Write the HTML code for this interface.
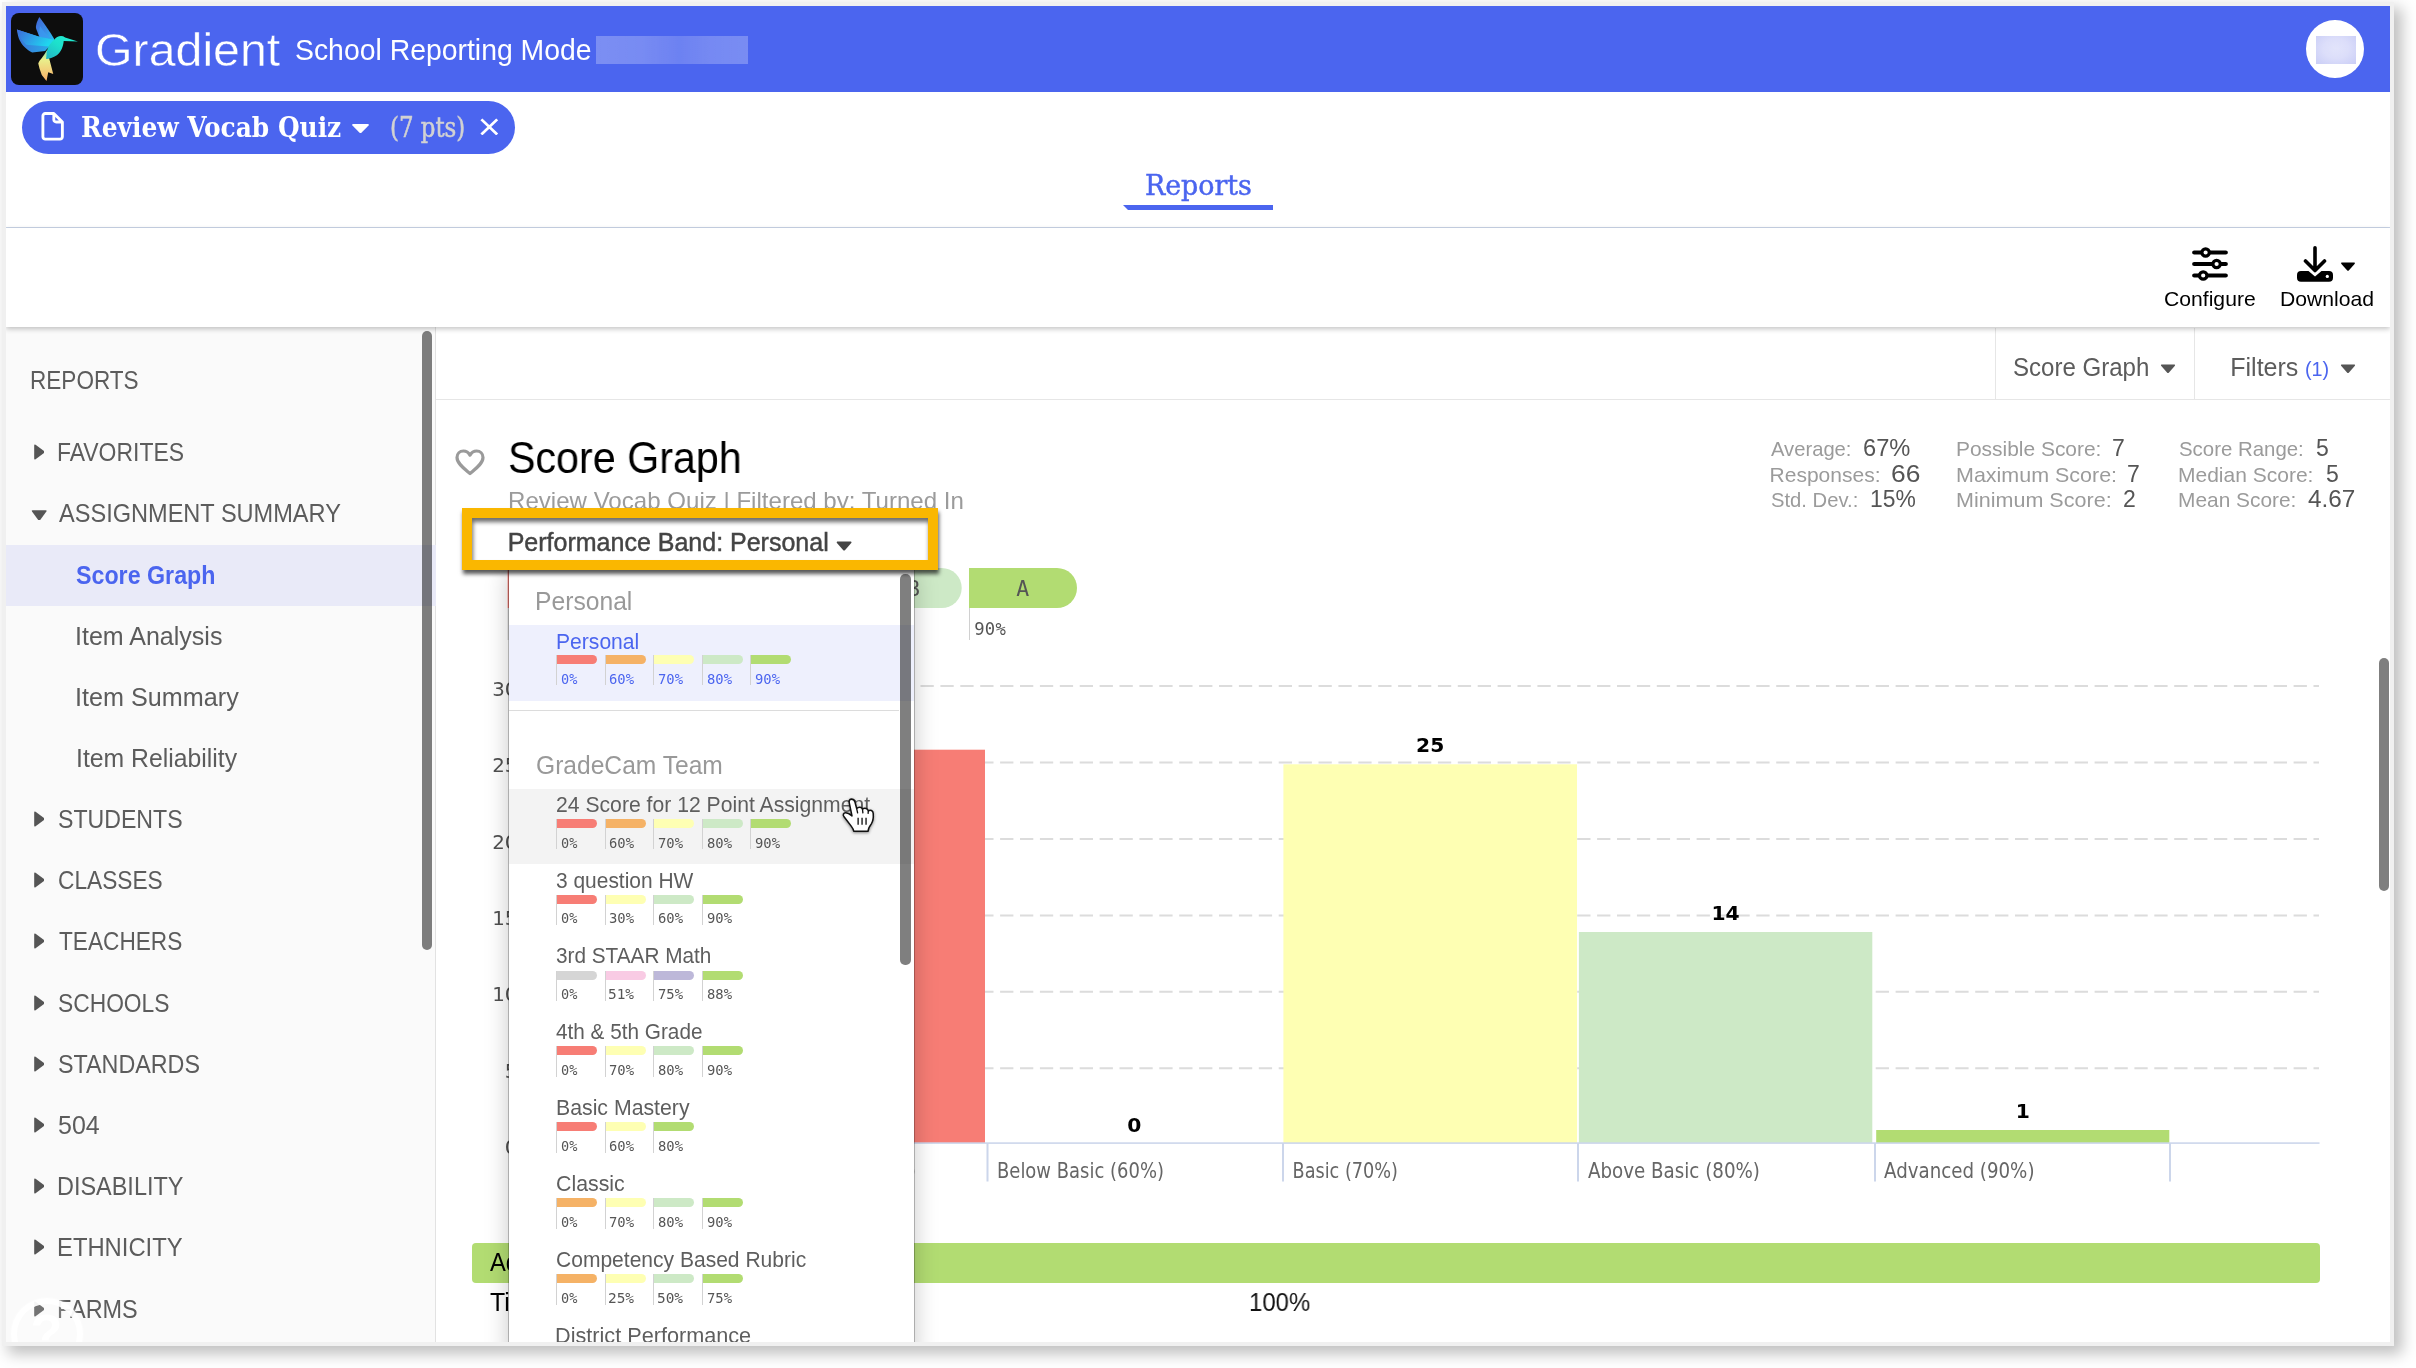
<!DOCTYPE html>
<html lang="en">
<head>
<meta charset="utf-8">
<title>Gradient - Score Graph</title>
<style>

html,body{margin:0;padding:0;background:#fff;width:2416px;height:1368px;overflow:hidden}
body{position:relative;font-family:"Liberation Sans",Arial,sans-serif}
#shadow,#frame,#page{position:absolute}
#page{will-change:transform}
#page header,#page nav,#page aside,#page main,#page section{position:static;display:block}
#page div,#page span,#page svg,#page h1,#page h2,#page p,#page a,#page b,#page ul,#page li{position:absolute;margin:0;padding:0;display:block;box-sizing:border-box}
#page .t{white-space:nowrap;transform-origin:0 50%}
#page .bl{display:inline-block;position:static;width:0;height:0;vertical-align:baseline}

</style>
</head>
<body>
<div id="shadow" style="left:2px;top:2px;width:2392px;height:1344px;background:#f0f0f0;box-shadow:7px 7px 14px 1px rgba(0,0,0,.25)"></div>
<div id="frame" style="left:6px;top:6px;width:2384px;height:1336px;overflow:hidden;background:#fff">
<div id="page" style="left:-6px;top:-6px;width:2416px;height:1368px">
<header id="hdr">
<div class="bar" style="left:6px;top:6px;width:2384px;height:85.5px;background:#4b65ef"></div>
<svg viewBox="85 85 1170 1165" width="72" height="71.6" style="left:11.2px;top:13.2px;border-radius:8px;background:#0d0d0d">
<defs>
<linearGradient id="gw1" x1="0" y1="0" x2="1" y2="1"><stop offset="0" stop-color="#3f63d6"/><stop offset=".55" stop-color="#3a8ee6"/><stop offset="1" stop-color="#25c3f0"/></linearGradient>
<linearGradient id="gw2" x1="0" y1="0" x2="1" y2=".35"><stop offset="0" stop-color="#3d6ad8"/><stop offset=".5" stop-color="#2f9fe8"/><stop offset="1" stop-color="#1fd6ee"/></linearGradient>
<linearGradient id="gw3" x1="0" y1="0" x2="1" y2="0"><stop offset="0" stop-color="#3a74da"/><stop offset="1" stop-color="#27b4ea"/></linearGradient>
<linearGradient id="gb" x1="1" y1="0" x2="0" y2="1"><stop offset="0" stop-color="#22f0d2"/><stop offset=".5" stop-color="#1de0cc"/><stop offset="1" stop-color="#22b4c4"/></linearGradient>
<linearGradient id="gt" x1="0" y1="0" x2="0" y2="1"><stop offset="0" stop-color="#7fe0b0"/><stop offset=".3" stop-color="#e9f08c"/><stop offset="1" stop-color="#fbb068"/></linearGradient>
</defs>
<path d="M545,150 C505,225 478,300 495,345 L545,472 L760,545 L792,517 C725,400 640,275 545,150Z" fill="url(#gw1)"/>
<path d="M560,300 C610,390 700,470 775,528 L700,570 L548,474 C535,420 540,350 560,300Z" fill="#3b9af0" opacity=".75"/>
<path d="M180,355 L545,472 L792,520 L700,640 L640,702 L430,727 C340,690 265,610 225,530 C205,490 190,430 180,355Z" fill="url(#gw3)"/>
<path d="M180,355 L545,472 L792,520 L700,630 L330,600 C250,530 200,440 180,355Z" fill="url(#gw2)"/>
<path d="M665,690 C620,790 545,850 528,905 L548,990 L585,1095 L662,1192 L690,1050 L772,1078 L708,835 Z" fill="url(#gt)"/>
<path d="M792,518 C825,465 905,440 965,482 L1172,547 L942,540 C935,625 900,720 830,772 C775,812 700,832 655,832 L668,700 C690,620 740,560 792,518Z" fill="url(#gb)"/>
</svg>
<span class="t" style="left:94.5px;top:26.7px;font:400 46.8px/1 'Liberation Sans', Arial, sans-serif;color:#fff;transform:scaleX(1.0322);-webkit-text-stroke:0.45px #4b65ef;">Gradient</span>
<span class="t" style="left:294.7px;top:35.3px;font:400 30px/1 'Liberation Sans', Arial, sans-serif;color:#fff;transform:scaleX(0.9460);">School Reporting Mode</span>
<div style="left:596px;top:35.8px;width:152px;height:28px;background:linear-gradient(90deg,rgba(255,255,255,.27),rgba(255,255,255,.25) 30%,rgba(255,255,255,.19) 55%,rgba(255,255,255,.24) 75%,rgba(255,255,255,.26));filter:blur(.5px)"></div>
<div style="left:2305.8px;top:19.9px;width:57.8px;height:57.8px;background:#fff;border-radius:50%"></div>
<div style="left:2316.2px;top:35.9px;width:39.8px;height:27.8px;background:radial-gradient(ellipse at 50% 45%,#e2e4fb 0%,#dcdefa 45%,#c9cdf6 100%)"></div>
</header>
<section id="chipbar">
<div style="left:22px;top:101px;width:493px;height:53px;background:#4b65ef;border-radius:27px"></div>
<svg viewBox="0 0 24 30" width="22.8" height="28.6" style="left:41.1px;top:112px"><path d="M4.5,1.5 H13.5 L22.5,10.5 V26 a2.5,2.5 0 0 1 -2.5,2.5 H4.5 a2.5,2.5 0 0 1 -2.5,-2.5 V4 a2.5,2.5 0 0 1 2.5,-2.5 Z M13.5,1.5 V8 a2.5,2.5 0 0 0 2.5,2.5 H22.5" fill="none" stroke="#fff" stroke-width="3" stroke-linejoin="round"/></svg>
<span class="t" style="left:81.3px;top:113.4px;font:700 28.5px/1 'DejaVu Serif Condensed', 'DejaVu Serif', 'Liberation Serif', serif;color:#fff;transform:scaleX(0.9698);">Review Vocab Quiz</span>
<svg viewBox="0 0 20 12" width="19" height="11" style="left:350.5px;top:122.5px"><path d="M1.5,1 H18.5 Q19.6,1.6 18.8,2.6 L11,10.6 Q10,11.4 9,10.6 L1.2,2.6 Q0.4,1.6 1.5,1Z" fill="#fff"/></svg>
<span class="t" style="left:389.8px;top:114.4px;font:400 27px/1 'DejaVu Serif Condensed', 'DejaVu Serif', 'Liberation Serif', serif;color:#d2d2d2;transform:scaleX(0.9419);-webkit-text-stroke:0.5px #d2d2d2;">(7 pts)</span>
<svg viewBox="0 0 20 20" width="18.6" height="17.8" style="left:480.3px;top:117.6px" preserveAspectRatio="none"><path d="M1.5,1.5 L18.5,18.5 M18.5,1.5 L1.5,18.5" stroke="#fff" stroke-width="3" fill="none"/></svg>
</section>
<nav id="tabs">
<span class="t" style="left:1144.6px;top:171.6px;font:400 28px/1 'DejaVu Serif Condensed', 'DejaVu Serif', 'Liberation Serif', serif;color:#4b65ef;transform:scaleX(1.0660);-webkit-text-stroke:0.45px #4b65ef;">Reports</span>
<svg width="150" height="5" viewBox="0 0 150 5" style="left:1123.3px;top:205px"><path d="M0,0 H150 V5 H5Z" fill="#4b65ef"/></svg>
<div style="left:6px;top:227px;width:2384px;height:1px;background:#c9d4e6"></div>
</nav>
<section id="toolbar">
<div style="left:6px;top:228px;width:2384px;height:98.8px;background:#fff;box-shadow:0 2px 5px rgba(0,0,0,.23);z-index:5"></div>
<svg viewBox="0 0 36 34" width="36" height="34" style="left:2192px;top:246.6px;z-index:6">
<g stroke="#000" stroke-width="4.2" stroke-linecap="round" fill="none"><path d="M2.2,5.5 H33.8 M2.2,17 H33.8 M2.2,28.5 H33.8"/></g>
<g fill="#fff" stroke="#000" stroke-width="3.2"><circle cx="13.6" cy="5.5" r="3.7"/><circle cx="24.6" cy="17" r="3.7"/><circle cx="11.2" cy="28.5" r="3.7"/></g></svg>
<svg viewBox="0 0 36 36" width="36" height="36" style="left:2296.8px;top:245.6px;z-index:6">
<path d="M18,1.8 V22.5 M8.5,15 L18,24.5 L27.5,15" stroke="#000" stroke-width="3.6" stroke-linecap="round" stroke-linejoin="round" fill="none"/>
<path d="M4,25 H11.5 L18,30.5 L24.5,25 H32 a4,4 0 0 1 4,4 V31.8 a4,4 0 0 1 -4,4 H4 a4,4 0 0 1 -4,-4 V29 a4,4 0 0 1 4,-4Z" fill="#000"/>
<circle cx="30.3" cy="30.4" r="1.6" fill="#fff"/></svg>
<svg viewBox="0 0 16 10" width="16" height="9.4" style="left:2340px;top:261.6px;z-index:6"><path d="M1.2,0.5 H14.8 Q15.8,1 15,2 L8.8,9 Q8,9.8 7.2,9 L1,2 Q0.2,1 1.2,0.5Z" fill="#000"/></svg>
<span class="t" style="left:2164.0px;top:287.5px;font:400 21px/1 'Liberation Sans', Arial, sans-serif;color:#000;transform:scaleX(1.0070);z-index:6;">Configure</span>
<span class="t" style="left:2279.5px;top:287.5px;font:400 21px/1 'Liberation Sans', Arial, sans-serif;color:#000;transform:scaleX(1.0075);z-index:6;">Download</span>
</section>
<aside id="side">
<div style="left:6px;top:327px;width:429.5px;height:1016px;background:#fafafa;border-right:1px solid #e2e2e2"></div>
<div style="left:6px;top:544.7px;width:429.5px;height:61px;background:#e9eaf8"></div>
<span class="t" style="left:30.0px;top:367.1px;font:400 26px/1 'Liberation Sans', Arial, sans-serif;color:#5c5c5c;transform:scaleX(0.8676);">REPORTS</span>
<svg viewBox="0 0 11 16" width="10.8" height="16" style="left:33.6px;top:443.7px"><path d="M0.2,1.4 Q0.2,-0.2 1.6,0.7 L10.2,7 Q11,8 10.2,9 L1.6,15.3 Q0.2,16.2 0.2,14.6Z" fill="#555"/></svg>
<span class="t" style="left:56.9px;top:438.8px;font:400 26px/1 'Liberation Sans', Arial, sans-serif;color:#5c5c5c;transform:scaleX(0.8818);">FAVORITES</span>
<svg viewBox="0 0 16 11" width="16.4" height="10.8" style="left:30.6px;top:509.6px"><path d="M1.4,0.2 Q-0.2,0.2 0.7,1.6 L7,10.2 Q8,11 9,10.2 L15.3,1.6 Q16.2,0.2 14.6,0.2Z" fill="#555"/></svg>
<span class="t" style="left:58.7px;top:500.0px;font:400 26px/1 'Liberation Sans', Arial, sans-serif;color:#5c5c5c;transform:scaleX(0.9061);">ASSIGNMENT SUMMARY</span>
<svg viewBox="0 0 11 16" width="10.8" height="16" style="left:33.6px;top:810.9px"><path d="M0.2,1.4 Q0.2,-0.2 1.6,0.7 L10.2,7 Q11,8 10.2,9 L1.6,15.3 Q0.2,16.2 0.2,14.6Z" fill="#555"/></svg>
<span class="t" style="left:57.8px;top:806.0px;font:400 26px/1 'Liberation Sans', Arial, sans-serif;color:#5c5c5c;transform:scaleX(0.8892);">STUDENTS</span>
<svg viewBox="0 0 11 16" width="10.8" height="16" style="left:33.6px;top:872.1px"><path d="M0.2,1.4 Q0.2,-0.2 1.6,0.7 L10.2,7 Q11,8 10.2,9 L1.6,15.3 Q0.2,16.2 0.2,14.6Z" fill="#555"/></svg>
<span class="t" style="left:57.8px;top:867.2px;font:400 26px/1 'Liberation Sans', Arial, sans-serif;color:#5c5c5c;transform:scaleX(0.8735);">CLASSES</span>
<svg viewBox="0 0 11 16" width="10.8" height="16" style="left:33.6px;top:933.3px"><path d="M0.2,1.4 Q0.2,-0.2 1.6,0.7 L10.2,7 Q11,8 10.2,9 L1.6,15.3 Q0.2,16.2 0.2,14.6Z" fill="#555"/></svg>
<span class="t" style="left:58.7px;top:928.4px;font:400 26px/1 'Liberation Sans', Arial, sans-serif;color:#5c5c5c;transform:scaleX(0.8709);">TEACHERS</span>
<svg viewBox="0 0 11 16" width="10.8" height="16" style="left:33.6px;top:994.5px"><path d="M0.2,1.4 Q0.2,-0.2 1.6,0.7 L10.2,7 Q11,8 10.2,9 L1.6,15.3 Q0.2,16.2 0.2,14.6Z" fill="#555"/></svg>
<span class="t" style="left:57.8px;top:989.6px;font:400 26px/1 'Liberation Sans', Arial, sans-serif;color:#5c5c5c;transform:scaleX(0.8768);">SCHOOLS</span>
<svg viewBox="0 0 11 16" width="10.8" height="16" style="left:33.6px;top:1055.7px"><path d="M0.2,1.4 Q0.2,-0.2 1.6,0.7 L10.2,7 Q11,8 10.2,9 L1.6,15.3 Q0.2,16.2 0.2,14.6Z" fill="#555"/></svg>
<span class="t" style="left:57.8px;top:1050.8px;font:400 26px/1 'Liberation Sans', Arial, sans-serif;color:#5c5c5c;transform:scaleX(0.8963);">STANDARDS</span>
<svg viewBox="0 0 11 16" width="10.8" height="16" style="left:33.6px;top:1116.9px"><path d="M0.2,1.4 Q0.2,-0.2 1.6,0.7 L10.2,7 Q11,8 10.2,9 L1.6,15.3 Q0.2,16.2 0.2,14.6Z" fill="#555"/></svg>
<span class="t" style="left:58.4px;top:1112.0px;font:400 26px/1 'Liberation Sans', Arial, sans-serif;color:#5c5c5c;transform:scaleX(0.9614);">504</span>
<svg viewBox="0 0 11 16" width="10.8" height="16" style="left:33.6px;top:1178.1px"><path d="M0.2,1.4 Q0.2,-0.2 1.6,0.7 L10.2,7 Q11,8 10.2,9 L1.6,15.3 Q0.2,16.2 0.2,14.6Z" fill="#555"/></svg>
<span class="t" style="left:56.9px;top:1173.2px;font:400 26px/1 'Liberation Sans', Arial, sans-serif;color:#5c5c5c;transform:scaleX(0.9019);">DISABILITY</span>
<svg viewBox="0 0 11 16" width="10.8" height="16" style="left:33.6px;top:1239.3px"><path d="M0.2,1.4 Q0.2,-0.2 1.6,0.7 L10.2,7 Q11,8 10.2,9 L1.6,15.3 Q0.2,16.2 0.2,14.6Z" fill="#555"/></svg>
<span class="t" style="left:56.9px;top:1234.4px;font:400 26px/1 'Liberation Sans', Arial, sans-serif;color:#5c5c5c;transform:scaleX(0.9156);">ETHNICITY</span>
<svg viewBox="0 0 11 16" width="10.8" height="16" style="left:33.6px;top:1300.5px"><path d="M0.2,1.4 Q0.2,-0.2 1.6,0.7 L10.2,7 Q11,8 10.2,9 L1.6,15.3 Q0.2,16.2 0.2,14.6Z" fill="#555"/></svg>
<span class="t" style="left:56.9px;top:1295.6px;font:400 26px/1 'Liberation Sans', Arial, sans-serif;color:#5c5c5c;transform:scaleX(0.9011);">FARMS</span>
<span class="t" style="left:76.3px;top:562.6px;font:700 25.5px/1 'Liberation Sans', Arial, sans-serif;color:#4b65ef;transform:scaleX(0.9111);">Score Graph</span>
<span class="t" style="left:75.4px;top:624.1px;font:400 25.5px/1 'Liberation Sans', Arial, sans-serif;color:#5c5c5c;transform:scaleX(0.9813);">Item Analysis</span>
<span class="t" style="left:75.4px;top:685.2px;font:400 25.5px/1 'Liberation Sans', Arial, sans-serif;color:#5c5c5c;transform:scaleX(0.9877);">Item Summary</span>
<span class="t" style="left:75.5px;top:746.2px;font:400 25.5px/1 'Liberation Sans', Arial, sans-serif;color:#5c5c5c;transform:scaleX(0.9717);">Item Reliability</span>
<div style="left:422px;top:330.5px;width:9.8px;height:619px;background:rgba(0,0,0,.5);border-radius:5px"></div>
<div style="left:11px;top:1298px;width:72px;height:72px;background:rgba(255,255,255,.18);border-radius:50%;border:6px solid rgba(255,255,255,.93);box-shadow:0 0 3px rgba(255,255,255,.8)"></div>
<span class="t" style="left:30.5px;top:1307.0px;font:700 52px/1 'Liberation Sans', Arial, sans-serif;color:rgba(255,255,255,.97);">?</span>
</aside>
<main id="main">
<div style="left:436px;top:399px;width:1954px;height:1px;background:#e6e6e6"></div>
<div style="left:1995px;top:328px;width:1px;height:71px;background:#e6e6e6"></div>
<div style="left:2194px;top:328px;width:1px;height:71px;background:#e6e6e6"></div>
<span class="t" style="left:2013.0px;top:354.6px;font:400 25px/1 'Liberation Sans', Arial, sans-serif;color:#5c5c5c;transform:scaleX(0.9619);">Score Graph</span>
<svg viewBox="0 0 16 10" width="16" height="9.6" style="left:2160.4px;top:363.7px;"><path d="M1.2,0.5 H14.8 Q15.8,1 15,2 L8.8,9 Q8,9.8 7.2,9 L1,2 Q0.2,1 1.2,0.5Z" fill="#555"/></svg>
<span class="t" style="left:2230.3px;top:354.6px;font:400 25px/1 'Liberation Sans', Arial, sans-serif;color:#5c5c5c;">Filters</span>
<span class="t" style="left:2305.1px;top:357.6px;font:400 21px/1 'Liberation Sans', Arial, sans-serif;color:#4b65ef;transform:scaleX(0.9420);">(1)</span>
<svg viewBox="0 0 16 10" width="16" height="9.6" style="left:2339.8px;top:363.7px;"><path d="M1.2,0.5 H14.8 Q15.8,1 15,2 L8.8,9 Q8,9.8 7.2,9 L1,2 Q0.2,1 1.2,0.5Z" fill="#555"/></svg>
<svg viewBox="0 0 30 27" width="30" height="27" style="left:455px;top:449px"><path d="M15,24.6 C9,19.5 2,14.5 2,8.6 C2,4.6 4.9,2 8.4,2 C11.2,2 13.6,3.6 15,6.2 C16.4,3.6 18.8,2 21.6,2 C25.1,2 28,4.6 28,8.6 C28,14.5 21,19.5 15,24.6Z" fill="none" stroke="#9a9a9a" stroke-width="3.2" stroke-linejoin="round"/></svg>
<h1 class="t" style="left:507.6px;top:436.3px;font:400 44px/1 'Liberation Sans', Arial, sans-serif;color:#000;transform:scaleX(0.9368);">Score Graph</h1>
<span class="t" style="left:507.8px;top:488.5px;font:400 24px/1 'Liberation Sans', Arial, sans-serif;color:#9b9b9b;transform:scaleX(1.0032);">Review Vocab Quiz | Filtered by: Turned In</span>
<span class="t" style="left:1770.6px;top:438.4px;font:400 21px/1 'Liberation Sans', Arial, sans-serif;color:#9b9b9b;transform:scaleX(0.9617);">Average:</span>
<span class="t" style="left:1862.5px;top:437.4px;font:400 23px/1 'Liberation Sans', Arial, sans-serif;color:#555;transform:scaleX(1.0295);">67%</span>
<span class="t" style="left:1769.6px;top:463.6px;font:400 21px/1 'Liberation Sans', Arial, sans-serif;color:#9b9b9b;">Responses:</span>
<span class="t" style="left:1891.1px;top:462.6px;font:400 23px/1 'Liberation Sans', Arial, sans-serif;color:#555;transform:scaleX(1.1475);">66</span>
<span class="t" style="left:1770.6px;top:488.9px;font:400 21px/1 'Liberation Sans', Arial, sans-serif;color:#9b9b9b;transform:scaleX(0.9627);">Std. Dev.:</span>
<span class="t" style="left:1869.6px;top:487.9px;font:400 23px/1 'Liberation Sans', Arial, sans-serif;color:#555;transform:scaleX(0.9937);">15%</span>
<span class="t" style="left:1955.7px;top:438.4px;font:400 21px/1 'Liberation Sans', Arial, sans-serif;color:#9b9b9b;transform:scaleX(0.9967);">Possible Score:</span>
<span class="t" style="left:2112.0px;top:437.4px;font:400 23px/1 'Liberation Sans', Arial, sans-serif;color:#555;">7</span>
<span class="t" style="left:1955.7px;top:463.6px;font:400 21px/1 'Liberation Sans', Arial, sans-serif;color:#9b9b9b;transform:scaleX(1.0226);">Maximum Score:</span>
<span class="t" style="left:2127.0px;top:462.6px;font:400 23px/1 'Liberation Sans', Arial, sans-serif;color:#555;">7</span>
<span class="t" style="left:1955.7px;top:488.9px;font:400 21px/1 'Liberation Sans', Arial, sans-serif;color:#9b9b9b;transform:scaleX(1.0258);">Minimum Score:</span>
<span class="t" style="left:2122.9px;top:487.9px;font:400 23px/1 'Liberation Sans', Arial, sans-serif;color:#555;">2</span>
<span class="t" style="left:2179.0px;top:438.4px;font:400 21px/1 'Liberation Sans', Arial, sans-serif;color:#9b9b9b;transform:scaleX(0.9718);">Score Range:</span>
<span class="t" style="left:2316.0px;top:437.4px;font:400 23px/1 'Liberation Sans', Arial, sans-serif;color:#555;">5</span>
<span class="t" style="left:2178.0px;top:463.6px;font:400 21px/1 'Liberation Sans', Arial, sans-serif;color:#9b9b9b;">Median Score:</span>
<span class="t" style="left:2326.0px;top:462.6px;font:400 23px/1 'Liberation Sans', Arial, sans-serif;color:#555;">5</span>
<span class="t" style="left:2178.0px;top:488.9px;font:400 21px/1 'Liberation Sans', Arial, sans-serif;color:#9b9b9b;transform:scaleX(0.9946);">Mean Score:</span>
<span class="t" style="left:2308.3px;top:487.9px;font:400 23px/1 'Liberation Sans', Arial, sans-serif;color:#555;transform:scaleX(1.0575);">4.67</span>
<svg id="chart" width="1960" height="780" viewBox="436 560 1960 780" style="left:436px;top:560px">
<path d="M507.6,568 H595.6 a20,20 0 0 1 0,40 H507.6Z" fill="#f77d75"/>
<rect x="507.6" y="608" width="1" height="32" fill="#d0d0d0"/>
<text x="561.4" y="596" text-anchor="middle" font-family="'DejaVu Sans Mono',monospace" font-size="21.5" fill="#555">F</text>
<text x="512.8000000000001" y="635" font-family="'DejaVu Sans Mono',monospace" font-size="17.2" letter-spacing="0.25" fill="#555">0%</text>
<path d="M623.2,568 H711.2 a20,20 0 0 1 0,40 H623.2Z" fill="#f5b266"/>
<rect x="623.2" y="608" width="1" height="32" fill="#d0d0d0"/>
<text x="677.0" y="596" text-anchor="middle" font-family="'DejaVu Sans Mono',monospace" font-size="21.5" fill="#555">D</text>
<text x="628.4000000000001" y="635" font-family="'DejaVu Sans Mono',monospace" font-size="17.2" letter-spacing="0.25" fill="#555">60%</text>
<path d="M738.5,568 H826.5 a20,20 0 0 1 0,40 H738.5Z" fill="#feffb3"/>
<rect x="738.5" y="608" width="1" height="32" fill="#d0d0d0"/>
<text x="792.3" y="596" text-anchor="middle" font-family="'DejaVu Sans Mono',monospace" font-size="21.5" fill="#555">C</text>
<text x="743.7" y="635" font-family="'DejaVu Sans Mono',monospace" font-size="17.2" letter-spacing="0.25" fill="#555">70%</text>
<path d="M853.7,568 H941.7 a20,20 0 0 1 0,40 H853.7Z" fill="#cde9c6"/>
<rect x="853.7" y="608" width="1" height="32" fill="#d0d0d0"/>
<text x="913.6" y="596" text-anchor="middle" font-family="'DejaVu Sans Mono',monospace" font-size="21.5" fill="#555">B</text>
<text x="858.9000000000001" y="635" font-family="'DejaVu Sans Mono',monospace" font-size="17.2" letter-spacing="0.25" fill="#555">80%</text>
<path d="M969,568 H1057 a20,20 0 0 1 0,40 H969Z" fill="#b2dc72"/>
<rect x="969" y="608" width="1" height="32" fill="#d0d0d0"/>
<text x="1022.8" y="596" text-anchor="middle" font-family="'DejaVu Sans Mono',monospace" font-size="21.5" fill="#555">A</text>
<text x="974.2" y="635" font-family="'DejaVu Sans Mono',monospace" font-size="17.2" letter-spacing="0.25" fill="#555">90%</text>
<path d="M520,1068.2 H2319" stroke="#dcdcdc" stroke-width="2" stroke-dasharray="13.3 6.6" stroke-dashoffset="17.4" fill="none"/>
<path d="M520,991.8 H2319" stroke="#dcdcdc" stroke-width="2" stroke-dasharray="13.3 6.6" stroke-dashoffset="17.4" fill="none"/>
<path d="M520,915.4 H2319" stroke="#dcdcdc" stroke-width="2" stroke-dasharray="13.3 6.6" stroke-dashoffset="17.4" fill="none"/>
<path d="M520,838.9 H2319" stroke="#dcdcdc" stroke-width="2" stroke-dasharray="13.3 6.6" stroke-dashoffset="17.4" fill="none"/>
<path d="M520,762.5 H2319" stroke="#dcdcdc" stroke-width="2" stroke-dasharray="13.3 6.6" stroke-dashoffset="17.4" fill="none"/>
<path d="M520,686.0 H2319" stroke="#dcdcdc" stroke-width="2" stroke-dasharray="13.3 6.6" stroke-dashoffset="17.4" fill="none"/>
<text x="517.3" y="1154.3" text-anchor="end" font-family="'DejaVu Sans',sans-serif" font-size="19.8" fill="#505050">0</text>
<text x="517.3" y="1077.8" text-anchor="end" font-family="'DejaVu Sans',sans-serif" font-size="19.8" fill="#505050">5</text>
<text x="517.3" y="1001.4" text-anchor="end" font-family="'DejaVu Sans',sans-serif" font-size="19.8" fill="#505050">10</text>
<text x="517.3" y="925.0" text-anchor="end" font-family="'DejaVu Sans',sans-serif" font-size="19.8" fill="#505050">15</text>
<text x="517.3" y="848.5" text-anchor="end" font-family="'DejaVu Sans',sans-serif" font-size="19.8" fill="#505050">20</text>
<text x="517.3" y="772.1" text-anchor="end" font-family="'DejaVu Sans',sans-serif" font-size="19.8" fill="#505050">25</text>
<text x="517.3" y="695.6" text-anchor="end" font-family="'DejaVu Sans',sans-serif" font-size="19.8" fill="#505050">30</text>
<rect x="691.5" y="749.7" width="293.5" height="393.3" fill="#f77d75"/>
<text x="838.2" y="737.5" text-anchor="middle" font-family="'DejaVu Sans',sans-serif" font-weight="700" font-size="20.3" fill="#000">26</text>
<text x="1134.2" y="1132.4" text-anchor="middle" font-family="'DejaVu Sans',sans-serif" font-weight="700" font-size="20.3" fill="#000">0</text>
<rect x="1283.4" y="764.3" width="293.6" height="378.7" fill="#feffb3"/>
<text x="1430.2" y="752.1" text-anchor="middle" font-family="'DejaVu Sans',sans-serif" font-weight="700" font-size="20.3" fill="#000">25</text>
<rect x="1578.9" y="932.0" width="293.4" height="211.0" fill="#cde9c6"/>
<text x="1725.6" y="919.8" text-anchor="middle" font-family="'DejaVu Sans',sans-serif" font-weight="700" font-size="20.3" fill="#000">14</text>
<rect x="1876.2" y="1130.0" width="293.1" height="13.0" fill="#b2dc72"/>
<text x="2022.8" y="1117.8" text-anchor="middle" font-family="'DejaVu Sans',sans-serif" font-weight="700" font-size="20.3" fill="#000">1</text>
<rect x="520" y="1142.3" width="1799.5" height="1.6" fill="#ccd6eb"/>
<rect x="690" y="1143" width="2" height="38.5" fill="#ccd6eb"/>
<rect x="986.5" y="1143" width="2" height="38.5" fill="#ccd6eb"/>
<rect x="1282" y="1143" width="2" height="38.5" fill="#ccd6eb"/>
<rect x="1577" y="1143" width="2" height="38.5" fill="#ccd6eb"/>
<rect x="1874" y="1143" width="2" height="38.5" fill="#ccd6eb"/>
<rect x="2169" y="1143" width="2" height="38.5" fill="#ccd6eb"/>
<text x="701" y="1177.5" font-family="'DejaVu Sans',sans-serif" font-size="20.5" fill="#666">Far Below Basic (0%)</text>
<text x="997" y="1177.5" font-family="'DejaVu Sans',sans-serif" font-size="20.5" fill="#666" textLength="167" lengthAdjust="spacingAndGlyphs">Below Basic (60%)</text>
<text x="1292.5" y="1177.5" font-family="'DejaVu Sans',sans-serif" font-size="20.5" fill="#666" textLength="105.5" lengthAdjust="spacingAndGlyphs">Basic (70%)</text>
<text x="1588" y="1177.5" font-family="'DejaVu Sans',sans-serif" font-size="20.5" fill="#666" textLength="172" lengthAdjust="spacingAndGlyphs">Above Basic (80%)</text>
<text x="1884" y="1177.5" font-family="'DejaVu Sans',sans-serif" font-size="20.5" fill="#666" textLength="150.5" lengthAdjust="spacingAndGlyphs">Advanced (90%)</text>
</svg>
<div style="left:472px;top:1243px;width:1848px;height:40px;background:#b2dc72;border-radius:4px"></div>
<span class="t" style="left:489.8px;top:1248.9px;font:400 26px/1 'Liberation Sans', Arial, sans-serif;color:#000;transform:scaleX(0.9108);">Advanced</span>
<span class="t" style="left:489.8px;top:1288.8px;font:400 26px/1 'Liberation Sans', Arial, sans-serif;color:#000;transform:scaleX(0.9583);">Time</span>
<span class="t" style="left:1248.8px;top:1290.3px;font:400 25px/1 'Liberation Sans', Arial, sans-serif;color:#111;transform:scaleX(0.9568);">100%</span>
<div style="left:2379px;top:657.6px;width:10px;height:233.5px;background:rgba(0,0,0,.5);border-radius:5px"></div>
</main>
<section id="dd">
<div style="left:507.7px;top:568px;width:406.9px;height:790px;background:#fff;background-clip:padding-box;border:1px solid rgba(0,0,0,.24);box-shadow:0 3px 22px rgba(0,0,0,.21)"></div>
<div style="left:508.7px;top:624.7px;width:404.9px;height:76.2px;background:#eef0fd"></div>
<div style="left:508.7px;top:710.3px;width:390px;height:1px;background:#dcdcdc"></div>
<div style="left:508.7px;top:789px;width:404.9px;height:75.2px;background:#f3f3f3"></div>
<span class="t" style="left:535.0px;top:587.8px;font:400 26px/1 'Liberation Sans', Arial, sans-serif;color:#999;transform:scaleX(0.9485);">Personal</span>
<span class="t" style="left:555.5px;top:631.2px;font:400 22.5px/1 'Liberation Sans', Arial, sans-serif;color:#4b65ef;transform:scaleX(0.9377);">Personal</span>
<div style="left:556.1px;top:654.8px;width:41px;height:9px;background:#f77d75;border-radius:0 5px 5px 0"></div>
<div style="left:556.1px;top:654.8px;width:1px;height:30.5px;background:#d2d2d2"></div>
<span class="t" style="left:560.8px;top:672.0px;font:400 14.5px/1 'DejaVu Sans Mono', 'Liberation Mono', monospace;color:#4b65ef;transform:scaleX(0.9363);">0%</span>
<div style="left:604.65px;top:654.8px;width:41px;height:9px;background:#f5b266;border-radius:0 5px 5px 0"></div>
<div style="left:604.65px;top:654.8px;width:1px;height:30.5px;background:#d2d2d2"></div>
<span class="t" style="left:609.4px;top:672.0px;font:400 14.5px/1 'DejaVu Sans Mono', 'Liberation Mono', monospace;color:#4b65ef;transform:scaleX(0.9562);">60%</span>
<div style="left:653.2px;top:654.8px;width:41px;height:9px;background:#feffb3;border-radius:0 5px 5px 0"></div>
<div style="left:653.2px;top:654.8px;width:1px;height:30.5px;background:#d2d2d2"></div>
<span class="t" style="left:657.9px;top:672.0px;font:400 14.5px/1 'DejaVu Sans Mono', 'Liberation Mono', monospace;color:#4b65ef;transform:scaleX(0.9562);">70%</span>
<div style="left:701.75px;top:654.8px;width:41px;height:9px;background:#cde9c6;border-radius:0 5px 5px 0"></div>
<div style="left:701.75px;top:654.8px;width:1px;height:30.5px;background:#d2d2d2"></div>
<span class="t" style="left:706.5px;top:672.0px;font:400 14.5px/1 'DejaVu Sans Mono', 'Liberation Mono', monospace;color:#4b65ef;transform:scaleX(0.9562);">80%</span>
<div style="left:750.3px;top:654.8px;width:41px;height:9px;background:#b2dc72;border-radius:0 5px 5px 0"></div>
<div style="left:750.3px;top:654.8px;width:1px;height:30.5px;background:#d2d2d2"></div>
<span class="t" style="left:755.0px;top:672.0px;font:400 14.5px/1 'DejaVu Sans Mono', 'Liberation Mono', monospace;color:#4b65ef;transform:scaleX(0.9562);">90%</span>
<span class="t" style="left:536.0px;top:751.6px;font:400 26px/1 'Liberation Sans', Arial, sans-serif;color:#999;transform:scaleX(0.9462);">GradeCam Team</span>
<span class="t" style="left:555.5px;top:793.6px;font:400 22.5px/1 'Liberation Sans', Arial, sans-serif;color:#5e5e5e;transform:scaleX(0.9405);">24 Score for 12 Point Assignment</span>
<div style="left:556.1px;top:818.7px;width:41px;height:9px;background:#f77d75;border-radius:0 5px 5px 0"></div>
<div style="left:556.1px;top:818.7px;width:1px;height:30.5px;background:#d2d2d2"></div>
<span class="t" style="left:560.8px;top:835.5px;font:400 14.5px/1 'DejaVu Sans Mono', 'Liberation Mono', monospace;color:#555;transform:scaleX(0.9363);">0%</span>
<div style="left:604.65px;top:818.7px;width:41px;height:9px;background:#f5b266;border-radius:0 5px 5px 0"></div>
<div style="left:604.65px;top:818.7px;width:1px;height:30.5px;background:#d2d2d2"></div>
<span class="t" style="left:609.4px;top:835.5px;font:400 14.5px/1 'DejaVu Sans Mono', 'Liberation Mono', monospace;color:#555;transform:scaleX(0.9562);">60%</span>
<div style="left:653.2px;top:818.7px;width:41px;height:9px;background:#feffb3;border-radius:0 5px 5px 0"></div>
<div style="left:653.2px;top:818.7px;width:1px;height:30.5px;background:#d2d2d2"></div>
<span class="t" style="left:657.9px;top:835.5px;font:400 14.5px/1 'DejaVu Sans Mono', 'Liberation Mono', monospace;color:#555;transform:scaleX(0.9562);">70%</span>
<div style="left:701.75px;top:818.7px;width:41px;height:9px;background:#cde9c6;border-radius:0 5px 5px 0"></div>
<div style="left:701.75px;top:818.7px;width:1px;height:30.5px;background:#d2d2d2"></div>
<span class="t" style="left:706.5px;top:835.5px;font:400 14.5px/1 'DejaVu Sans Mono', 'Liberation Mono', monospace;color:#555;transform:scaleX(0.9562);">80%</span>
<div style="left:750.3px;top:818.7px;width:41px;height:9px;background:#b2dc72;border-radius:0 5px 5px 0"></div>
<div style="left:750.3px;top:818.7px;width:1px;height:30.5px;background:#d2d2d2"></div>
<span class="t" style="left:755.0px;top:835.5px;font:400 14.5px/1 'DejaVu Sans Mono', 'Liberation Mono', monospace;color:#555;transform:scaleX(0.9562);">90%</span>
<span class="t" style="left:556.4px;top:869.5px;font:400 22.5px/1 'Liberation Sans', Arial, sans-serif;color:#5e5e5e;transform:scaleX(0.9303);">3 question HW</span>
<div style="left:556.1px;top:894.6px;width:41px;height:9px;background:#f77d75;border-radius:0 5px 5px 0"></div>
<div style="left:556.1px;top:894.6px;width:1px;height:30.5px;background:#d2d2d2"></div>
<span class="t" style="left:560.8px;top:911.4px;font:400 14.5px/1 'DejaVu Sans Mono', 'Liberation Mono', monospace;color:#555;transform:scaleX(0.9363);">0%</span>
<div style="left:604.65px;top:894.6px;width:41px;height:9px;background:#feffb3;border-radius:0 5px 5px 0"></div>
<div style="left:604.65px;top:894.6px;width:1px;height:30.5px;background:#d2d2d2"></div>
<span class="t" style="left:609.4px;top:911.4px;font:400 14.5px/1 'DejaVu Sans Mono', 'Liberation Mono', monospace;color:#555;transform:scaleX(0.9562);">30%</span>
<div style="left:653.2px;top:894.6px;width:41px;height:9px;background:#cde9c6;border-radius:0 5px 5px 0"></div>
<div style="left:653.2px;top:894.6px;width:1px;height:30.5px;background:#d2d2d2"></div>
<span class="t" style="left:657.9px;top:911.4px;font:400 14.5px/1 'DejaVu Sans Mono', 'Liberation Mono', monospace;color:#555;transform:scaleX(0.9562);">60%</span>
<div style="left:701.75px;top:894.6px;width:41px;height:9px;background:#b2dc72;border-radius:0 5px 5px 0"></div>
<div style="left:701.75px;top:894.6px;width:1px;height:30.5px;background:#d2d2d2"></div>
<span class="t" style="left:706.5px;top:911.4px;font:400 14.5px/1 'DejaVu Sans Mono', 'Liberation Mono', monospace;color:#555;transform:scaleX(0.9562);">90%</span>
<span class="t" style="left:556.4px;top:945.4px;font:400 22.5px/1 'Liberation Sans', Arial, sans-serif;color:#5e5e5e;transform:scaleX(0.9227);">3rd STAAR Math</span>
<div style="left:556.1px;top:970.5px;width:41px;height:9px;background:#d5d5d5;border-radius:0 5px 5px 0"></div>
<div style="left:556.1px;top:970.5px;width:1px;height:30.5px;background:#d2d2d2"></div>
<span class="t" style="left:560.8px;top:987.3px;font:400 14.5px/1 'DejaVu Sans Mono', 'Liberation Mono', monospace;color:#555;transform:scaleX(0.9363);">0%</span>
<div style="left:604.65px;top:970.5px;width:41px;height:9px;background:#f9cbe4;border-radius:0 5px 5px 0"></div>
<div style="left:604.65px;top:970.5px;width:1px;height:30.5px;background:#d2d2d2"></div>
<span class="t" style="left:608.4px;top:987.3px;font:400 14.5px/1 'DejaVu Sans Mono', 'Liberation Mono', monospace;color:#555;transform:scaleX(0.9937);">51%</span>
<div style="left:653.2px;top:970.5px;width:41px;height:9px;background:#bdb8d9;border-radius:0 5px 5px 0"></div>
<div style="left:653.2px;top:970.5px;width:1px;height:30.5px;background:#d2d2d2"></div>
<span class="t" style="left:657.9px;top:987.3px;font:400 14.5px/1 'DejaVu Sans Mono', 'Liberation Mono', monospace;color:#555;transform:scaleX(0.9562);">75%</span>
<div style="left:701.75px;top:970.5px;width:41px;height:9px;background:#b2dc72;border-radius:0 5px 5px 0"></div>
<div style="left:701.75px;top:970.5px;width:1px;height:30.5px;background:#d2d2d2"></div>
<span class="t" style="left:706.5px;top:987.3px;font:400 14.5px/1 'DejaVu Sans Mono', 'Liberation Mono', monospace;color:#555;transform:scaleX(0.9562);">88%</span>
<span class="t" style="left:556.4px;top:1021.3px;font:400 22.5px/1 'Liberation Sans', Arial, sans-serif;color:#5e5e5e;transform:scaleX(0.9221);">4th &amp; 5th Grade</span>
<div style="left:556.1px;top:1046.4px;width:41px;height:9px;background:#f77d75;border-radius:0 5px 5px 0"></div>
<div style="left:556.1px;top:1046.4px;width:1px;height:30.5px;background:#d2d2d2"></div>
<span class="t" style="left:560.8px;top:1063.2px;font:400 14.5px/1 'DejaVu Sans Mono', 'Liberation Mono', monospace;color:#555;transform:scaleX(0.9363);">0%</span>
<div style="left:604.65px;top:1046.4px;width:41px;height:9px;background:#feffb3;border-radius:0 5px 5px 0"></div>
<div style="left:604.65px;top:1046.4px;width:1px;height:30.5px;background:#d2d2d2"></div>
<span class="t" style="left:609.4px;top:1063.2px;font:400 14.5px/1 'DejaVu Sans Mono', 'Liberation Mono', monospace;color:#555;transform:scaleX(0.9562);">70%</span>
<div style="left:653.2px;top:1046.4px;width:41px;height:9px;background:#cde9c6;border-radius:0 5px 5px 0"></div>
<div style="left:653.2px;top:1046.4px;width:1px;height:30.5px;background:#d2d2d2"></div>
<span class="t" style="left:657.9px;top:1063.2px;font:400 14.5px/1 'DejaVu Sans Mono', 'Liberation Mono', monospace;color:#555;transform:scaleX(0.9562);">80%</span>
<div style="left:701.75px;top:1046.4px;width:41px;height:9px;background:#b2dc72;border-radius:0 5px 5px 0"></div>
<div style="left:701.75px;top:1046.4px;width:1px;height:30.5px;background:#d2d2d2"></div>
<span class="t" style="left:706.5px;top:1063.2px;font:400 14.5px/1 'DejaVu Sans Mono', 'Liberation Mono', monospace;color:#555;transform:scaleX(0.9562);">90%</span>
<span class="t" style="left:555.5px;top:1097.2px;font:400 22.5px/1 'Liberation Sans', Arial, sans-serif;color:#5e5e5e;transform:scaleX(0.9452);">Basic Mastery</span>
<div style="left:556.1px;top:1122.3px;width:41px;height:9px;background:#f77d75;border-radius:0 5px 5px 0"></div>
<div style="left:556.1px;top:1122.3px;width:1px;height:30.5px;background:#d2d2d2"></div>
<span class="t" style="left:560.8px;top:1139.1px;font:400 14.5px/1 'DejaVu Sans Mono', 'Liberation Mono', monospace;color:#555;transform:scaleX(0.9363);">0%</span>
<div style="left:604.65px;top:1122.3px;width:41px;height:9px;background:#feffb3;border-radius:0 5px 5px 0"></div>
<div style="left:604.65px;top:1122.3px;width:1px;height:30.5px;background:#d2d2d2"></div>
<span class="t" style="left:609.4px;top:1139.1px;font:400 14.5px/1 'DejaVu Sans Mono', 'Liberation Mono', monospace;color:#555;transform:scaleX(0.9562);">60%</span>
<div style="left:653.2px;top:1122.3px;width:41px;height:9px;background:#b2dc72;border-radius:0 5px 5px 0"></div>
<div style="left:653.2px;top:1122.3px;width:1px;height:30.5px;background:#d2d2d2"></div>
<span class="t" style="left:657.9px;top:1139.1px;font:400 14.5px/1 'DejaVu Sans Mono', 'Liberation Mono', monospace;color:#555;transform:scaleX(0.9562);">80%</span>
<span class="t" style="left:555.5px;top:1173.1px;font:400 22.5px/1 'Liberation Sans', Arial, sans-serif;color:#5e5e5e;transform:scaleX(0.9472);">Classic</span>
<div style="left:556.1px;top:1198.2px;width:41px;height:9px;background:#f5b266;border-radius:0 5px 5px 0"></div>
<div style="left:556.1px;top:1198.2px;width:1px;height:30.5px;background:#d2d2d2"></div>
<span class="t" style="left:560.8px;top:1215.0px;font:400 14.5px/1 'DejaVu Sans Mono', 'Liberation Mono', monospace;color:#555;transform:scaleX(0.9363);">0%</span>
<div style="left:604.65px;top:1198.2px;width:41px;height:9px;background:#feffb3;border-radius:0 5px 5px 0"></div>
<div style="left:604.65px;top:1198.2px;width:1px;height:30.5px;background:#d2d2d2"></div>
<span class="t" style="left:609.4px;top:1215.0px;font:400 14.5px/1 'DejaVu Sans Mono', 'Liberation Mono', monospace;color:#555;transform:scaleX(0.9562);">70%</span>
<div style="left:653.2px;top:1198.2px;width:41px;height:9px;background:#cde9c6;border-radius:0 5px 5px 0"></div>
<div style="left:653.2px;top:1198.2px;width:1px;height:30.5px;background:#d2d2d2"></div>
<span class="t" style="left:657.9px;top:1215.0px;font:400 14.5px/1 'DejaVu Sans Mono', 'Liberation Mono', monospace;color:#555;transform:scaleX(0.9562);">80%</span>
<div style="left:701.75px;top:1198.2px;width:41px;height:9px;background:#b2dc72;border-radius:0 5px 5px 0"></div>
<div style="left:701.75px;top:1198.2px;width:1px;height:30.5px;background:#d2d2d2"></div>
<span class="t" style="left:706.5px;top:1215.0px;font:400 14.5px/1 'DejaVu Sans Mono', 'Liberation Mono', monospace;color:#555;transform:scaleX(0.9562);">90%</span>
<span class="t" style="left:555.5px;top:1249.0px;font:400 22.5px/1 'Liberation Sans', Arial, sans-serif;color:#5e5e5e;transform:scaleX(0.9348);">Competency Based Rubric</span>
<div style="left:556.1px;top:1274.1px;width:41px;height:9px;background:#f5b266;border-radius:0 5px 5px 0"></div>
<div style="left:556.1px;top:1274.1px;width:1px;height:30.5px;background:#d2d2d2"></div>
<span class="t" style="left:560.8px;top:1290.9px;font:400 14.5px/1 'DejaVu Sans Mono', 'Liberation Mono', monospace;color:#555;transform:scaleX(0.9363);">0%</span>
<div style="left:604.65px;top:1274.1px;width:41px;height:9px;background:#feffb3;border-radius:0 5px 5px 0"></div>
<div style="left:604.65px;top:1274.1px;width:1px;height:30.5px;background:#d2d2d2"></div>
<span class="t" style="left:608.4px;top:1290.9px;font:400 14.5px/1 'DejaVu Sans Mono', 'Liberation Mono', monospace;color:#555;transform:scaleX(0.9937);">25%</span>
<div style="left:653.2px;top:1274.1px;width:41px;height:9px;background:#cde9c6;border-radius:0 5px 5px 0"></div>
<div style="left:653.2px;top:1274.1px;width:1px;height:30.5px;background:#d2d2d2"></div>
<span class="t" style="left:656.9px;top:1290.9px;font:400 14.5px/1 'DejaVu Sans Mono', 'Liberation Mono', monospace;color:#555;transform:scaleX(0.9937);">50%</span>
<div style="left:701.75px;top:1274.1px;width:41px;height:9px;background:#b2dc72;border-radius:0 5px 5px 0"></div>
<div style="left:701.75px;top:1274.1px;width:1px;height:30.5px;background:#d2d2d2"></div>
<span class="t" style="left:706.5px;top:1290.9px;font:400 14.5px/1 'DejaVu Sans Mono', 'Liberation Mono', monospace;color:#555;transform:scaleX(0.9562);">75%</span>
<span class="t" style="left:555.4px;top:1324.9px;font:400 22.5px/1 'Liberation Sans', Arial, sans-serif;color:#5e5e5e;transform:scaleX(0.9625);">District Performance</span>
<div style="left:556.1px;top:1350px;width:41px;height:9px;background:#f77d75;border-radius:0 5px 5px 0"></div>
<div style="left:556.1px;top:1350px;width:1px;height:30.5px;background:#d2d2d2"></div>
<span class="t" style="left:560.8px;top:1366.8px;font:400 14.5px/1 'DejaVu Sans Mono', 'Liberation Mono', monospace;color:#555;transform:scaleX(0.9363);">0%</span>
<div style="left:604.65px;top:1350px;width:41px;height:9px;background:#feffb3;border-radius:0 5px 5px 0"></div>
<div style="left:604.65px;top:1350px;width:1px;height:30.5px;background:#d2d2d2"></div>
<span class="t" style="left:609.4px;top:1366.8px;font:400 14.5px/1 'DejaVu Sans Mono', 'Liberation Mono', monospace;color:#555;transform:scaleX(0.9562);">65%</span>
<div style="left:653.2px;top:1350px;width:41px;height:9px;background:#cde9c6;border-radius:0 5px 5px 0"></div>
<div style="left:653.2px;top:1350px;width:1px;height:30.5px;background:#d2d2d2"></div>
<span class="t" style="left:657.9px;top:1366.8px;font:400 14.5px/1 'DejaVu Sans Mono', 'Liberation Mono', monospace;color:#555;transform:scaleX(0.9562);">80%</span>
<div style="left:701.75px;top:1350px;width:41px;height:9px;background:#b2dc72;border-radius:0 5px 5px 0"></div>
<div style="left:701.75px;top:1350px;width:1px;height:30.5px;background:#d2d2d2"></div>
<span class="t" style="left:706.5px;top:1366.8px;font:400 14.5px/1 'DejaVu Sans Mono', 'Liberation Mono', monospace;color:#555;transform:scaleX(0.9562);">90%</span>
<div style="left:900px;top:574px;width:10.5px;height:391px;background:rgba(0,0,0,.5);border-radius:5px"></div>
<svg viewBox="430 350 640 680" width="32.75" height="34.8" style="left:842px;top:797.9px;filter:drop-shadow(0 1.5px 1.5px rgba(0,0,0,.45))">
<path d="M610,372 C575,372 563,410 573,450 L625,700 C590,672 545,640 500,640 C458,640 440,682 470,716 L610,900 C640,940 655,962 660,1000 L940,1000 C940,950 962,912 1000,860 C1040,800 1046,720 1040,650 C1035,590 982,574 945,602 C935,560 880,532 830,566 C815,526 760,516 717,556 L682,422 C672,386 640,372 610,372Z" fill="#fff" stroke="#111" stroke-width="30" stroke-linejoin="round"/>
<path d="M745,735 V875 M822,735 V875 M900,735 V875" stroke="#111" stroke-width="26" stroke-linecap="butt" fill="none"/>
<path d="M717,556 L735,640 M830,566 L838,640 M945,602 L940,650" stroke="#111" stroke-width="26" stroke-linecap="round" fill="none"/></svg>
</section>
<section id="hl">
<div style="left:462px;top:508.1px;width:476px;height:61.7px;background:#fff;border:10px solid #fab700;border-width:10px 10.2px;box-shadow:1px 4px 4px rgba(0,0,0,.66), inset 1px 4px 4px rgba(0,0,0,.58)"></div>
<span class="t" style="left:507.7px;top:530.0px;font:400 25px/1 'Liberation Sans', Arial, sans-serif;color:#444;-webkit-text-stroke:0.45px #444;">Performance Band: Personal</span>
<svg viewBox="0 0 16 10" width="18.2" height="10.2" style="left:834.8px;top:541.2px;"><path d="M1.2,0.5 H14.8 Q15.8,1 15,2 L8.8,9 Q8,9.8 7.2,9 L1,2 Q0.2,1 1.2,0.5Z" fill="#444"/></svg>
</section>
</div>
</div>
</body>
</html>
